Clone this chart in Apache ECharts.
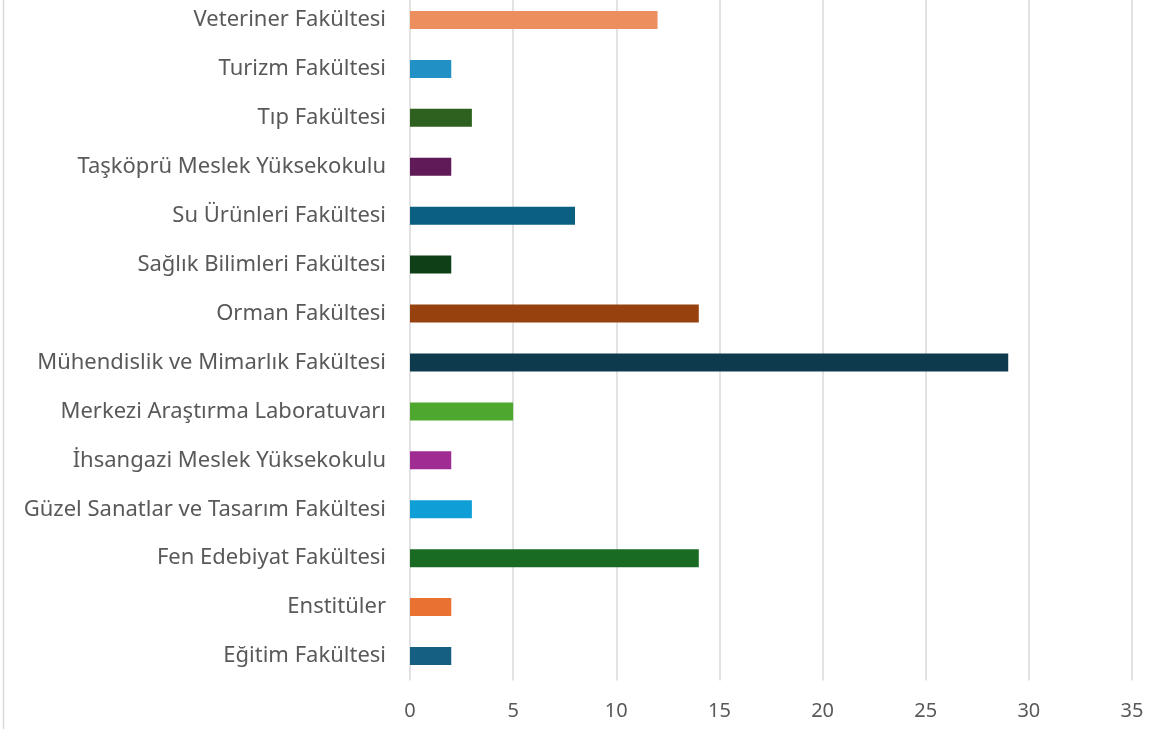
<!DOCTYPE html>
<html>
<head>
<meta charset="utf-8">
<script src="https://cdn.jsdelivr.net/npm/echarts@6/dist/echarts.min.js"></script>
<style>
  html, body { margin: 0; padding: 0; background: #fff; overflow: hidden; }
  /* shifted up a few px so the first band can start above the page edge */
  #chart { width: 1151px; height: 734px; position: absolute; left: 0; top: -5px; }
</style>
</head>
<body>
<div id="chart"></div>
<script>
// bottom to top, as on the category axis
var categories = [
  'Eğitim Fakültesi',
  'Enstitüler',
  'Fen Edebiyat Fakültesi',
  'Güzel Sanatlar ve Tasarım Fakültesi',
  'İhsangazi Meslek Yüksekokulu',
  'Merkezi Araştırma Laboratuvarı',
  'Mühendislik ve Mimarlık Fakültesi',
  'Orman Fakültesi',
  'Sağlık Bilimleri Fakültesi',
  'Su Ürünleri Fakültesi',
  'Taşköprü Meslek Yüksekokulu',
  'Tıp Fakültesi',
  'Turizm Fakültesi',
  'Veteriner Fakültesi'
]
var values = [2, 2, 14, 3, 2, 5, 29, 14, 2, 8, 2, 3, 2, 12]
var barColors = [
  '#156082', '#E97132', '#196B24', '#0F9ED5', '#A02B93', '#4EA72E', '#0E3A4E',
  '#97410F', '#0F3F16', '#0B5F80', '#601A57', '#2E611F', '#2190C5', '#ED8E5E'
]

var chart = echarts.init(document.getElementById('chart'))
chart.setOption({
  animation: false,
  textStyle: { fontFamily: 'Noto Sans' },
  graphic: [{
    type: 'line',
    shape: { x1: 3.5, y1: 0, x2: 3.5, y2: 734 },
    style: { stroke: '#d9d9d9', lineWidth: 1.5 }
  }],
  grid: { left: 410, right: 19, top: 0.5, bottom: 48.5, containLabel: false },
  xAxis: {
    type: 'value',
    min: 0,
    max: 35,
    interval: 5,
    axisLine: { show: false },
    axisTick: { show: false },
    splitLine: { lineStyle: { color: '#d9d9d9', width: 1.5 } },
    axisLabel: { color: '#595959', fontSize: 20, margin: 21 }
  },
  yAxis: {
    type: 'category',
    data: categories,
    axisLine: { show: false },
    axisTick: { show: false },
    splitLine: { show: false },
    axisLabel: { color: '#595959', fontSize: 22, margin: 24 }
  },
  series: [{
    type: 'bar',
    barWidth: 18,
    data: values.map(function (v, i) {
      return { value: v, itemStyle: { color: barColors[i] } }
    })
  }]
})
</script>
</body>
</html>
